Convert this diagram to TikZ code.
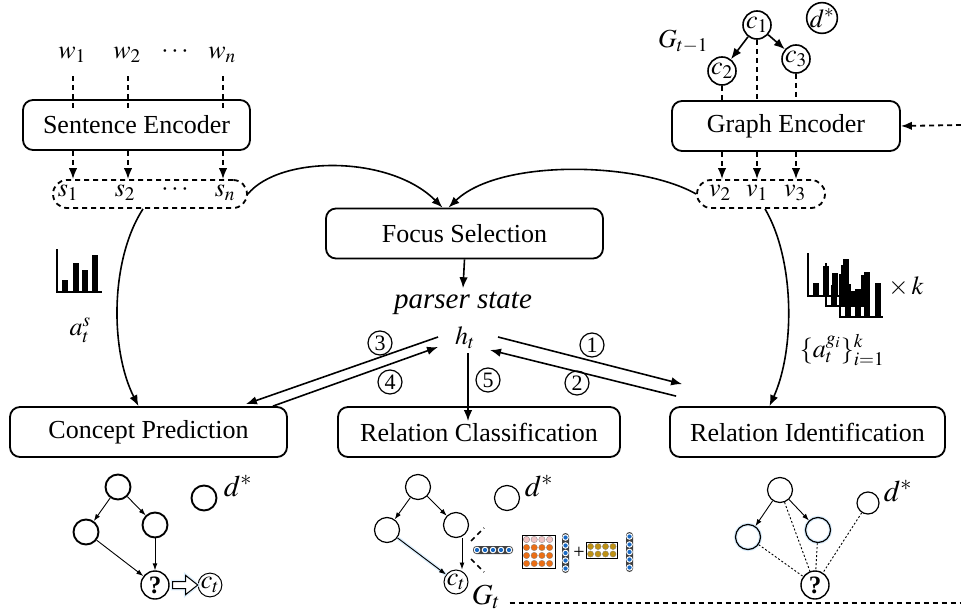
\documentclass[tikz,border=0pt]{standalone}
\usepackage{mathptmx}
\usepackage{fontspec}
\setmainfont{Liberation Serif}
\usetikzlibrary{arrows.meta,positioning}
\definecolor{dotblue}{RGB}{25,105,195}
\definecolor{dotorange}{RGB}{235,110,20}
\definecolor{dotpink}{RGB}{240,195,195}
\definecolor{dotgold}{RGB}{190,145,20}
\definecolor{glowblue}{RGB}{218,237,252}
\begin{document}
\begin{tikzpicture}[x=1pt,y=-1pt,
  font=\fontsize{26}{30}\selectfont,
  module/.style={draw,rounded corners=10pt,line width=1.8pt,minimum height=50pt,inner sep=0pt},
  seqbox/.style={draw,dash pattern=on 5pt off 4pt,rounded corners=14pt,line width=1.8pt,minimum height=28pt,inner sep=0pt},
  feed/.style={dash pattern=on 5pt off 4pt,line width=1.8pt},
  flow/.style={-{Latex[length=11pt,width=8.5pt]},line width=1.6pt},
  tip/.style={-{Latex[length=11pt,width=8.5pt]}},
  num/.style={circle,draw,line width=1.2pt,minimum size=24pt,inner sep=0pt,font=\fontsize{22}{24}\selectfont},
  cnode/.style={circle,draw,line width=1.6pt,minimum size=28pt,inner sep=0pt},
  tnode/.style={circle,draw,line width=1.9pt,minimum size=25pt,inner sep=0pt},
  vnode/.style={circle,draw,line width=1.2pt,minimum size=25pt,inner sep=0pt},
  qnode/.style={circle,draw,line width=1.4pt,minimum size=28pt,inner sep=0pt,font=\fontsize{25}{28}\selectfont\bfseries},
  tnodect/.style={circle,draw,line width=1pt,minimum size=23pt,inner sep=0pt},
  dlabel/.style={font=\fontsize{30}{32}\selectfont},
  edge/.style={-{Latex[length=7pt,width=5pt]},line width=0.9pt},
  link/.style={dash pattern=on 2pt off 2pt,line width=0.9pt},
  glow/.style={preaction={draw=glowblue,line width=3.5pt,-}},
]
  \useasboundingbox (0,0) rectangle (961,615);

  \node (w1) at (72,55) {$w_1$};
  \node (w2) at (127,55) {$w_2$};
  \node (wdots) at (175,52) {$\cdots$};
  \node (wn) at (222,55) {$w_n$};
  \node[module,minimum width=227pt] (senc) at (136.5,125) {Sentence Encoder};
  \node[seqbox,minimum width=194pt] (sseq) at (150,194) {};
  \node (s1) at (68,193) {$s_1$};
  \node (s2) at (125,193) {$s_2$};
  \node (sdots) at (175,190) {$\cdots$};
  \node (sn) at (225,193) {$s_n$};
  \foreach \w in {w1,w2,wn} {
    \draw[feed] ([shift={(1,10)}]\w.south) -- ([shift={(1,10)}]\w.south |- senc.north);
    \draw[feed,tip] ([xshift=1pt]senc.south -| \w) -- ([xshift=1pt]sseq.north -| \w);
  }

  \node[module,minimum width=228pt] (genc) at (786,126) {Graph Encoder};
  \node[cnode] (c1) at (757,25) {$c_1$};
  \node[cnode] (c2) at (722,71) {$c_2$};
  \node[cnode] (c3) at (796,59) {$c_3$};
  \node[cnode,minimum size=25pt] (dstar) at (822,18) {$d^{*}$};
  \node (gprev) at (683,42) {$G_{t-1}$};
  \draw[flow] (c1) -- (c2);
  \draw[flow] (c1) -- (c3);
  \node[seqbox,minimum width=128pt] (vseq) at (761,194) {};
  \node (v2) at (720,193) {$v_2$};
  \node (v1) at (757,193) {$v_1$};
  \node (v3) at (795,193) {$v_3$};
  \foreach \c in {c1,c2,c3} {
    \draw[feed] (\c) -- (\c |- genc.north);
    \draw[feed,tip] (genc.south -| \c) -- (vseq.north -| \c);
  }
  \coordinate (gin) at (961,125);
  \draw[feed,tip] (gin) -- (genc.east);

  \node[module,minimum width=277pt] (focus) at (464.5,233.5) {Focus Selection};
  \draw[flow] (sseq.east) .. controls (280,155) and (390,155) .. ([xshift=-22pt]focus.north);
  \draw[flow] (vseq.west) .. controls (640,162) and (500,158) .. ([xshift=-16pt]focus.north);
  \node[font=\itshape\fontsize{29}{32}\selectfont] (pstate) at (463,303) {parser state};
  \node (ht) at (465,338) {$h_t$};
  \draw[flow] (focus.south) -- (pstate.north);

  \node[module,minimum width=277pt] (cpred) at (148.5,432) {Concept Prediction};
  \node[module,minimum width=282pt] (rclass) at (479,432) {Relation Classification};
  \node[module,minimum width=275pt] (rident) at (807.5,432) {Relation Identification};

  \draw[flow] ([xshift=-7pt]sseq.south) .. controls (110,260) and (110,350) .. ([xshift=-10pt]cpred.north);
  \draw[flow] ([xshift=4pt]vseq.south) .. controls (795,260) and (795,350) .. ([xshift=-38pt]rident.north);

  \draw[flow] ([shift={(-27,-1)}]ht.center) -- ([shift={(-42,-2)}]cpred.north east);
  \draw[flow] ([shift={(-15,0)}]cpred.north east) -- ([shift={(-27,9)}]ht.center);
  \draw[flow] ([shift={(33,-1)}]ht.center) -- ([shift={(13,-22)}]rident.north west);
  \draw[flow] ([shift={(7,-10)}]rident.north west) -- ([shift={(25,12)}]ht.center);
  \draw[flow] ([shift={(3,15)}]ht.center) -- ([shift={(3,15)}]ht.center |- rclass.north);
  \node[num] (n1) at (592,345) {1};
  \node[num] (n2) at (577,383) {2};
  \node[num] (n3) at (380,343) {3};
  \node[num] (n4) at (390,382) {4};
  \node[num] (n5) at (488,380) {5};

  \begin{scope}[shift={(57,292)}]
    \draw[line width=1.5pt] (0,-43) -- (0,0) -- (45,0);
    \foreach \x/\h in {5/11,16/28,25/21,35/36}
      \fill (\x,-1.5) rectangle (\x+5.5,-1.5-\h);
  \end{scope}
  \node (ats) at (80,330) {$a_t^s$};

  \foreach \ox/\oy/\ha/\hb/\hc/\hd in {808/296/12/29/22/36,826/306/20/40/14/30,840/317/32/27/44/33} {
    \begin{scope}[shift={(\ox,\oy)}]
      \draw[line width=1.5pt] (0,-43) -- (0,0) -- (43,0);
      \fill (5,-1.5) rectangle (10.5,-1.5-\ha);
      \fill (15,-1.5) rectangle (20.5,-1.5-\hb);
      \fill (24,-1.5) rectangle (29.5,-1.5-\hc);
      \fill (35,-1.5) rectangle (40.5,-1.5-\hd);
    \end{scope}
  }
  \node (timesk) at (906,287) {$\times\, k$};
  \node (atg) at (842,350) {$\{a_t^{g_i}\}_{i=1}^{k}$};

  \node[tnode] (ptop) at (118,487) {};
  \node[tnode] (pleft) at (86,532) {};
  \node[tnode] (pright) at (155,525) {};
  \node[tnode] (pd) at (204,498) {};
  \node[dlabel] (pdl) at (238,486) {$d^*$};
  \node[qnode] (pq) at (155,585) {?};
  \node[tnodect] (pct) at (210,585) {$c_t$};
  \draw[edge] (ptop) -- (pleft);
  \draw[edge] (ptop) -- (pright);
  \draw[edge] (pleft) -- (pq);
  \draw[edge] (pright) -- (pq);
  \draw[line width=1pt,fill=white,glow] ([shift={(3,-3.5)}]pq.east) -- ++(13,0) -- ++(0,-6) -- ++(12,9.5)
    -- ++(-12,9.5) -- ++(0,-6) -- ++(-13,0) -- cycle;

  \node[vnode] (qtop) at (418,487) {};
  \node[vnode] (qleft) at (387,530) {};
  \node[vnode] (qright) at (456,525) {};
  \node[vnode] (qd) at (507,498) {};
  \node[dlabel] (qdl) at (539,486) {$d^*$};
  \node[tnodect,minimum size=24pt] (qct) at (456,582) {$c_t$};
  \draw[edge] (qtop) -- (qleft);
  \draw[edge] (qtop) -- (qright);
  \draw[edge,glow] (qleft) -- (qct);
  \draw[edge] ([xshift=6pt]qright.south) -- ([xshift=6pt]qright.south |- qct.north);
  \draw[feed,line width=1.5pt] (471,541) -- (484,528);
  \draw[feed,line width=1.5pt] (471,559) -- (484,572);
  \fill[black!75,rounded corners=3.5pt] (473,546) rectangle (513,554);
  \foreach \x in {477,485,493,501,509} {
    \fill[white] (\x,550) circle (3.3);
    \fill[dotblue] (\x,550) circle (2.1);
  }
  \draw[line width=1pt] (522,535) rectangle (555,568);
  \foreach \i in {0,...,3} {
    \fill[dotpink,draw=black!50,line width=0.3pt] (526.5+7.7*\i,539.5) circle (3.2);
    \foreach \j in {1,2,3}
      \fill[dotorange,draw=black!50,line width=0.3pt] (526.5+7.7*\i,539.5+8*\j) circle (3.2);
  }
  \fill[black!75,rounded corners=3.5pt] (562,533) rectangle (569,573);
  \foreach \y in {537.5,545.5,553,560.5,568.5} {
    \fill[white] (565.5,\y) circle (3.3);
    \fill[dotblue] (565.5,\y) circle (2.1);
  }
  \node[font=\fontsize{20}{22}\selectfont] (plus) at (579,553) {+};
  \draw[line width=1pt] (586,542) rectangle (617,558);
  \foreach \i in {0,...,3}
    \foreach \j in {0,1}
      \fill[dotgold,draw=black!50,line width=0.3pt] (590.5+7.5*\i,546.5+7.5*\j) circle (3.1);
  \fill[black!75,rounded corners=3.5pt] (626,532) rectangle (633,572);
  \foreach \y in {536.5,544.5,552,559.5,567.5} {
    \fill[white] (629.5,\y) circle (3.3);
    \fill[dotblue] (629.5,\y) circle (2.1);
  }

  \node[vnode] (rtop) at (780,490) {};
  \node[vnode,glow] (rleft) at (748,537) {};
  \node[vnode,glow] (rright) at (818,530) {};
  \node[vnode,minimum size=22pt] (rd) at (868,503) {};
  \node[dlabel] (rdl) at (898,491) {$d^*$};
  \node[qnode] (rq) at (815,585) {?};
  \draw[edge] (rtop) -- (rleft);
  \draw[edge] (rtop) -- (rright);
  \foreach \n in {rleft,rtop,rright,rd}
    \draw[link] (\n) -- (rq);

  \node[font=\fontsize{29}{32}\selectfont] (gt) at (486,597) {$G_t$};
  \coordinate (gout) at (961,603);
  \draw[feed] ([xshift=6pt]gt.east |- gout) -- (gout);
\end{tikzpicture}
\end{document}
